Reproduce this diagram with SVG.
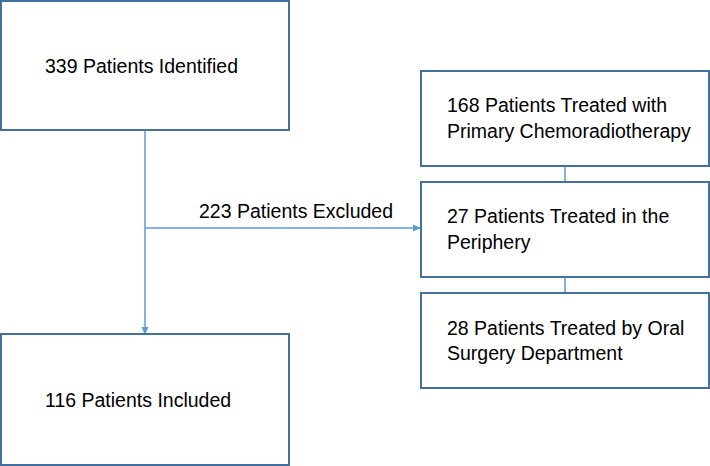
<svg xmlns="http://www.w3.org/2000/svg" width="710" height="466" viewBox="0 0 710 466">
<style>
.box{fill:#fff;stroke:#41719c;stroke-width:2}
.t{font-family:"Liberation Sans",Arial,sans-serif;font-size:19.5px;fill:#000}
.c{fill:none;stroke:#5b9bd5;stroke-width:1.5}
</style>
<defs>
<marker id="ah" markerWidth="8" markerHeight="8" refX="7" refY="4" orient="auto" markerUnits="userSpaceOnUse">
<path d="M0,0.5 L8,4 L0,7.5 Z" fill="#5b9bd5"/>
</marker>
</defs>
<rect width="710" height="466" fill="#fff"/>
<g id="connectors">
<line class="c" x1="145" y1="130" x2="145" y2="334" marker-end="url(#ah)"/>
<line class="c" x1="145" y1="228" x2="420" y2="228" marker-end="url(#ah)"/>
<line class="c" x1="565" y1="166" x2="565" y2="182"/>
<line class="c" x1="565" y1="277" x2="565" y2="293"/>
<text class="t" x="199" y="218">223 Patients Excluded</text>
</g>
<g id="n1">
<rect class="box" x="1" y="1" width="288" height="129"/>
<text class="t" x="45" y="73">339 Patients Identified</text>
</g>
<g id="n2">
<rect class="box" x="1" y="334" width="288" height="131"/>
<text class="t" x="45" y="407">116 Patients Included</text>
</g>
<g id="n3">
<rect class="box" x="421" y="71" width="288" height="95"/>
<text class="t" x="447" y="112">168 Patients Treated with</text>
<text class="t" x="447" y="138">Primary Chemoradiotherapy</text>
</g>
<g id="n4">
<rect class="box" x="421" y="182" width="288" height="95"/>
<text class="t" x="447" y="223">27 Patients Treated in the</text>
<text class="t" x="447" y="249">Periphery</text>
</g>
<g id="n5">
<rect class="box" x="421" y="293" width="288" height="95"/>
<text class="t" x="447" y="335">28 Patients Treated by Oral</text>
<text class="t" x="447" y="360">Surgery Department</text>
</g>
</svg>
